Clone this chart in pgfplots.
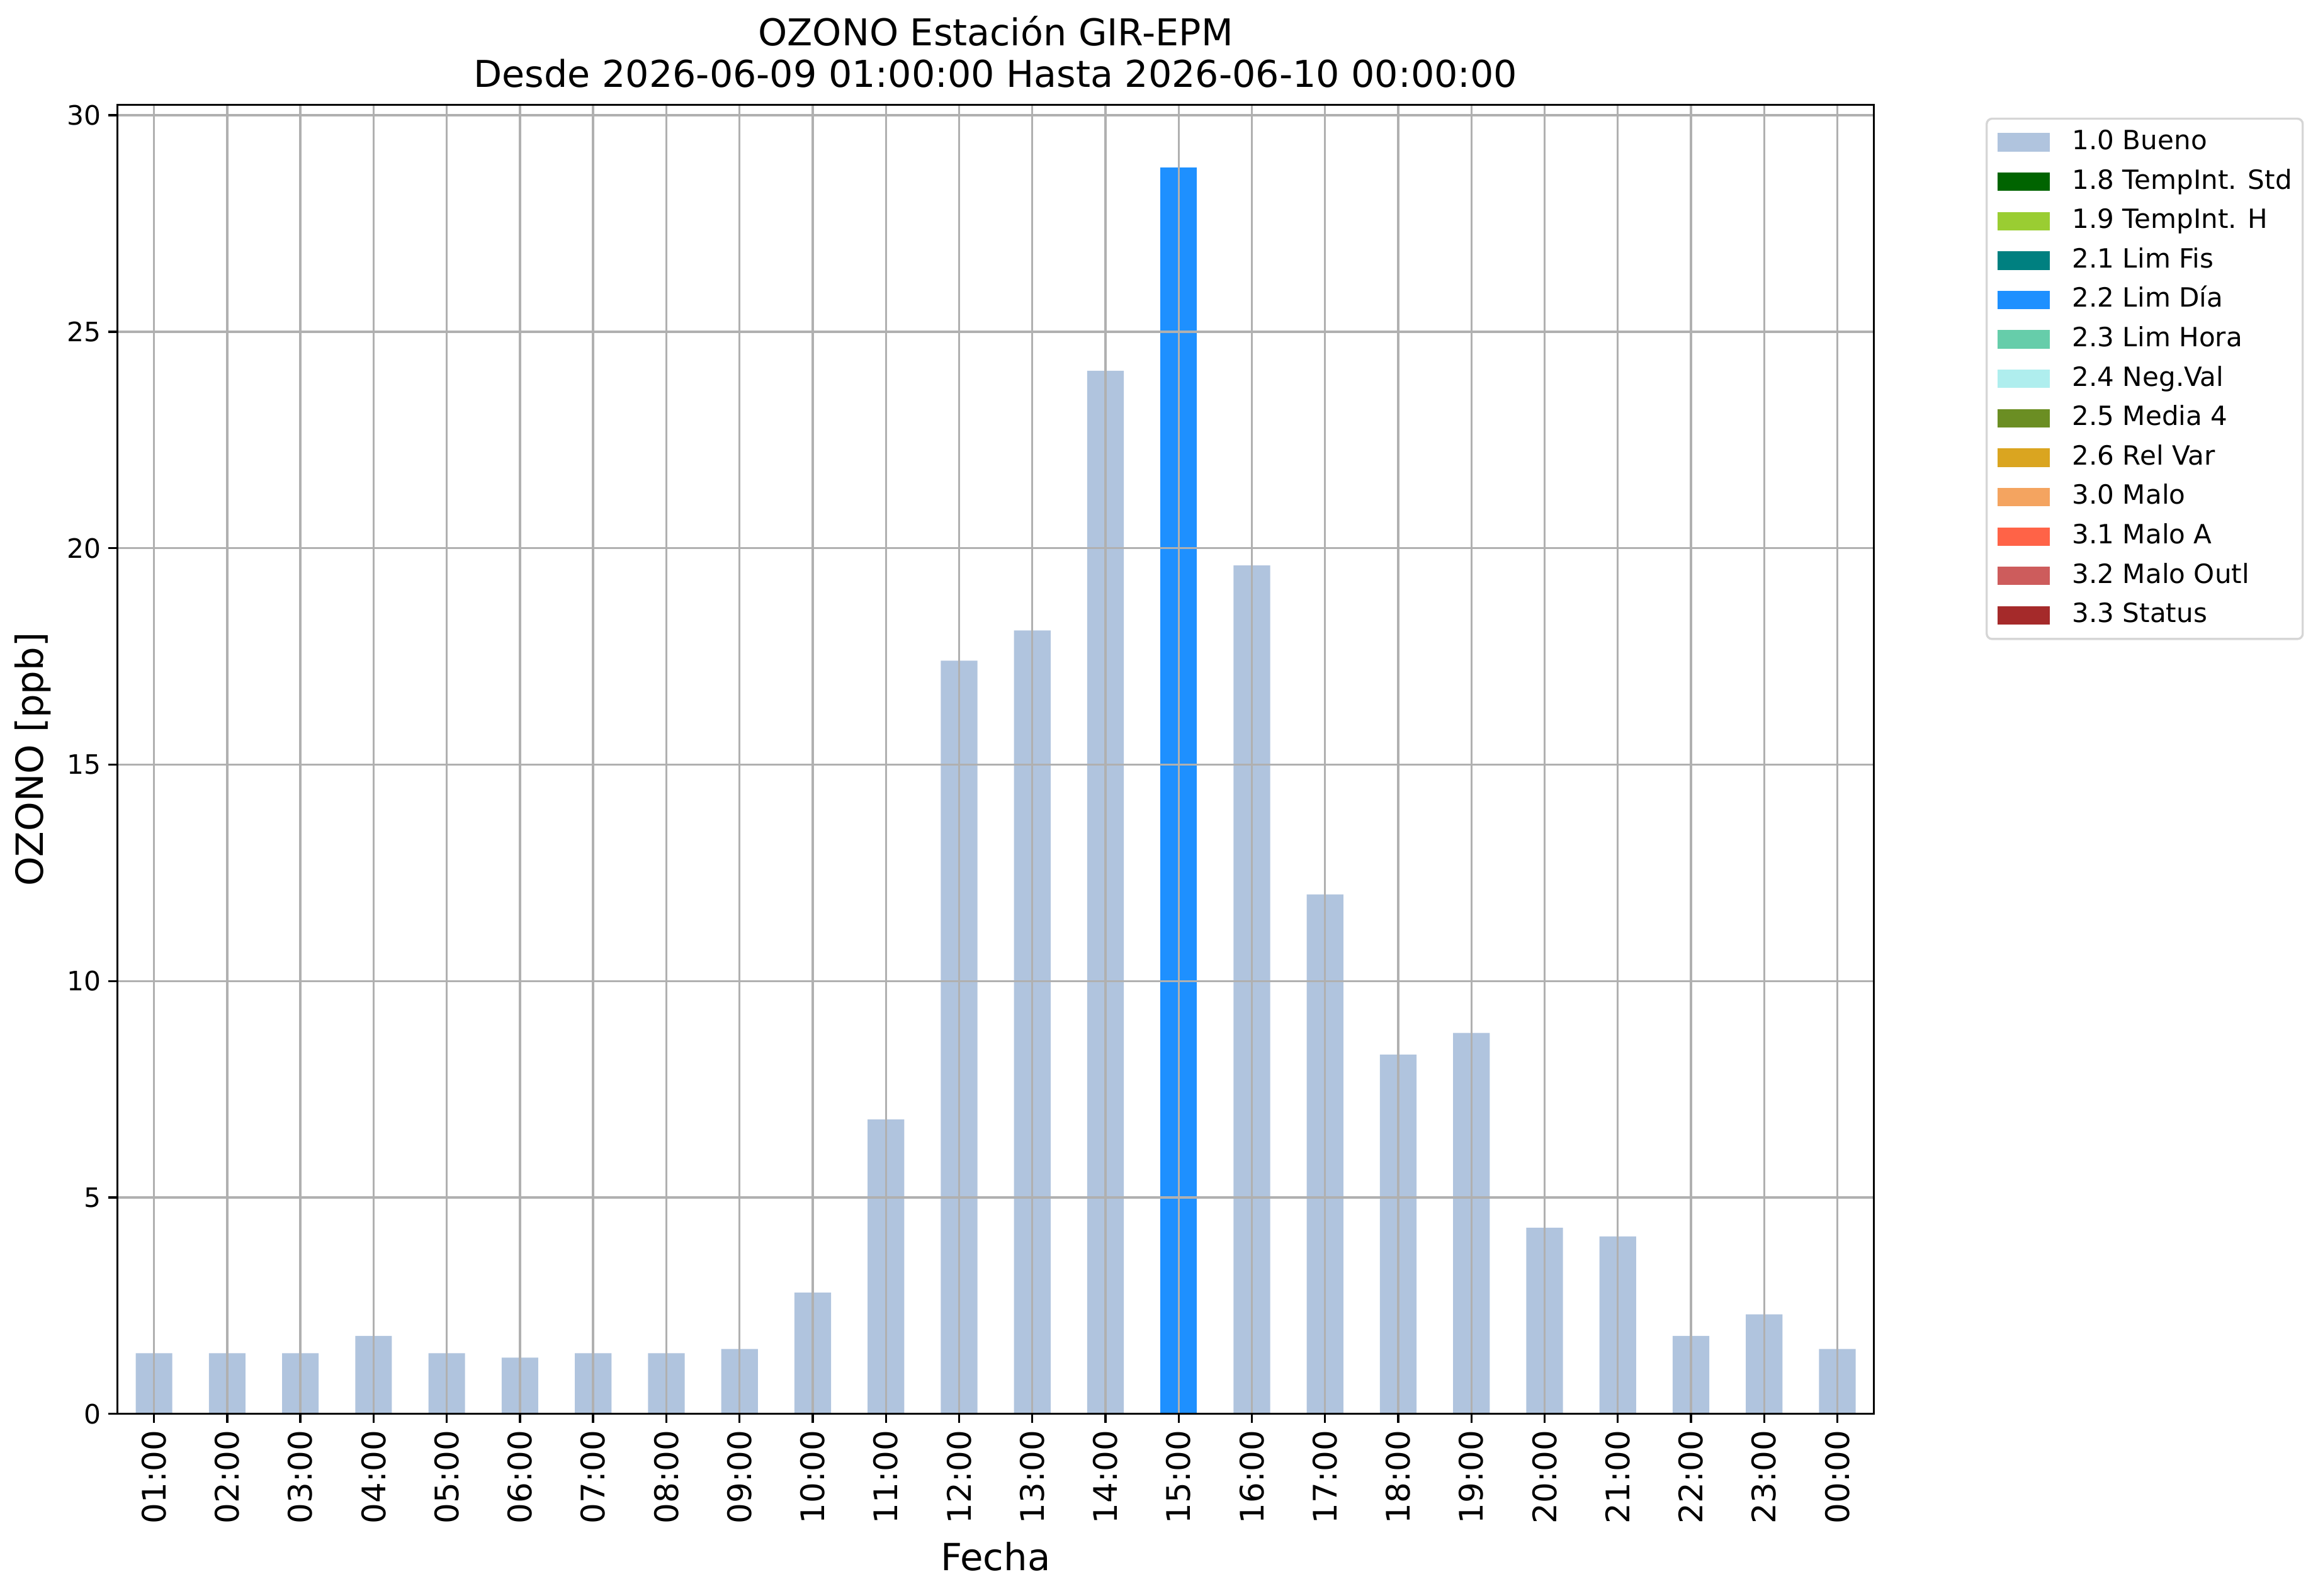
\documentclass[border=0pt]{standalone}
\usepackage{fontspec}
\setmainfont{DejaVu Sans}
\usepackage{pgfplots}
\pgfplotsset{compat=1.18}
\definecolor{bueno}{HTML}{B0C4DE}
\definecolor{tistd}{HTML}{006400}
\definecolor{tih}{HTML}{9ACD32}
\definecolor{limfis}{HTML}{008080}
\definecolor{limdia}{HTML}{1E90FF}
\definecolor{limhora}{HTML}{66CDAA}
\definecolor{negval}{HTML}{AFEEEE}
\definecolor{media}{HTML}{6B8E23}
\definecolor{relvar}{HTML}{DAA520}
\definecolor{malo}{HTML}{F4A460}
\definecolor{maloa}{HTML}{FF6347}
\definecolor{malooutl}{HTML}{CD5C5C}
\definecolor{status}{HTML}{A52A2A}
\definecolor{gridgray}{HTML}{B0B0B0}
\pgfplotsset{
  swatch/.style={legend image code/.code={\fill[##1, sharp corners] (0pt,-4.5pt) rectangle (25.5pt,4.5pt);}},
}
\begin{document}
\begin{tikzpicture}
\useasboundingbox (0,0) rectangle (1129pt,777pt);
\begin{axis}[
  at={(57.2pt,88.4pt)}, anchor=south west,
  scale only axis, width=855.5pt, height=637.5pt,
  xmin=-0.5, xmax=23.5, ymin=0, ymax=30.24,
  xtick={0,1,...,23},
  xticklabels={01:00,02:00,03:00,04:00,05:00,06:00,07:00,08:00,09:00,10:00,11:00,12:00,13:00,14:00,15:00,16:00,17:00,18:00,19:00,20:00,21:00,22:00,23:00,00:00},
  ytick={0,5,10,15,20,25,30},
  xtick pos=bottom, ytick pos=left, tick align=outside,
  major tick length=4.5pt,
  every tick/.style={black, line width=1.04pt},
  axis line style={line width=1.04pt},
  grid=major, major grid style={gridgray, line width=1.04pt},
  axis on top,
  /pgf/number format/assume math mode=true,
  yticklabel style={font=\fontsize{13}{15.6}\selectfont},
  xticklabel style={rotate=90, anchor=east, font=\fontsize{15.8}{18}\selectfont},
  title={OZONO Estación GIR-EPM\\Desde 2026-06-09 01:00:00 Hasta 2026-06-10 00:00:00},
  title style={align=center, font=\fontsize{18}{20.4}\selectfont, at={(axis description cs:0.5,1)}, anchor=south, inner sep=0pt, text depth=0pt, yshift=2.4pt},
  xlabel={Fecha},
  xlabel style={font=\fontsize{18.2}{22}\selectfont, at={(axis description cs:0.5,-0.1089)}, anchor=center},
  ylabel={OZONO [ppb]},
  ylabel style={font=\fontsize{18.2}{22}\selectfont, at={(axis description cs:-0.04828,0.5)}, anchor=center},
  legend cell align=left,
  legend style={at={(1.0636,0.9903)}, anchor=north west, draw=black!16, line width=1.04pt, rounded corners=2.6pt,
    font=\fontsize{12.9}{15.5}\selectfont, inner xsep=5.2pt, inner ysep=5.5pt, row sep=7.2pt, column sep=11pt,
    nodes={inner sep=0pt, text height=9.5pt, text depth=2.5pt}},
]
\addplot[ybar, bar width=0.5, bar shift=0pt, fill=bueno, draw=none, swatch] coordinates {
(0,1.4) (1,1.4) (2,1.4) (3,1.8) (4,1.4) (5,1.3) (6,1.4) (7,1.4) (8,1.5) (9,2.8)
(10,6.8) (11,17.4) (12,18.1) (13,24.1) (15,19.6) (16,12.0) (17,8.3) (18,8.8)
(19,4.3) (20,4.1) (21,1.8) (22,2.3) (23,1.5)};
\addlegendentry{1.0 Bueno}
\addlegendimage{fill=tistd, draw=none, swatch}\addlegendentry{1.8 TempInt. Std}
\addlegendimage{fill=tih, draw=none, swatch}\addlegendentry{1.9 TempInt. H}
\addlegendimage{fill=limfis, draw=none, swatch}\addlegendentry{2.1 Lim Fis}
\addplot[ybar, bar width=0.5, bar shift=0pt, fill=limdia, draw=none, swatch] coordinates {(14,28.8)};
\addlegendentry{2.2 Lim Día}
\addlegendimage{fill=limhora, draw=none, swatch}\addlegendentry{2.3 Lim Hora}
\addlegendimage{fill=negval, draw=none, swatch}\addlegendentry{2.4 Neg.Val}
\addlegendimage{fill=media, draw=none, swatch}\addlegendentry{2.5 Media 4}
\addlegendimage{fill=relvar, draw=none, swatch}\addlegendentry{2.6 Rel Var}
\addlegendimage{fill=malo, draw=none, swatch}\addlegendentry{3.0 Malo}
\addlegendimage{fill=maloa, draw=none, swatch}\addlegendentry{3.1 Malo A}
\addlegendimage{fill=malooutl, draw=none, swatch}\addlegendentry{3.2 Malo Outl}
\addlegendimage{fill=status, draw=none, swatch}\addlegendentry{3.3 Status}
\end{axis}
\end{tikzpicture}
\end{document}
